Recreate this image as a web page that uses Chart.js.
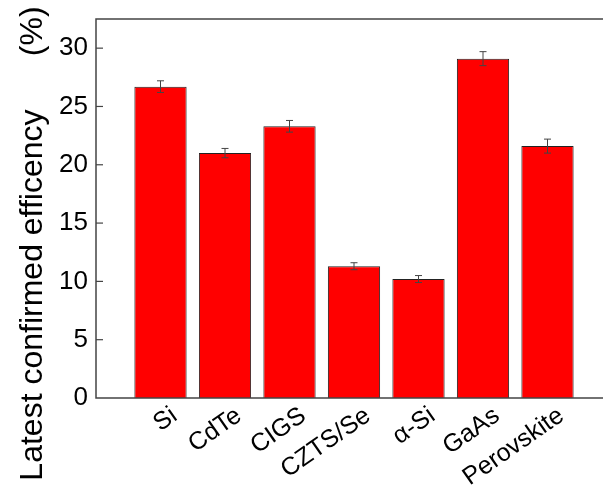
<!DOCTYPE html>
<html>
<head>
<meta charset="utf-8">
<script src="https://cdn.jsdelivr.net/npm/chart.js@4/dist/chart.umd.min.js"></script>
<style>
  html, body { margin: 0; padding: 0; background: #fff; overflow: hidden; }
  canvas { display: block; }
</style>
</head>
<body>
<canvas id="c" width="620" height="494"></canvas>
<script>
const categories = ['Si', 'CdTe', 'CIGS', 'CZTS/Se', '\u03B1-Si', 'GaAs', 'Perovskite'];
const efficiency = [26.7, 21.0, 23.3, 11.3, 10.2, 29.1, 21.6];
const errors = [0.5, 0.4, 0.5, 0.3, 0.3, 0.6, 0.6];
const yMin = 0, yMax = 32.5, yStep = 2.5, yLabelStep = 5;
const yTitle = 'Latest confirmed efficency\u00A0\u00A0\u00A0\u00A0\u00A0\u00A0(%)';

const FONT = 'Arial, "Liberation Sans", sans-serif';

const errorBars = {
  id: 'errorBars',
  afterDatasetsDraw(chart) {
    const ctx = chart.ctx, ys = chart.scales.y;
    const meta = chart.getDatasetMeta(0);
    ctx.save();
    ctx.strokeStyle = '#444';
    ctx.lineWidth = 1;
    meta.data.forEach((bar, i) => {
      const yt = ys.getPixelForValue(efficiency[i] + errors[i]);
      const yb = ys.getPixelForValue(efficiency[i] - errors[i]);
      const cap = 3.5;
      ctx.beginPath();
      ctx.moveTo(bar.x, yt); ctx.lineTo(bar.x, yb);
      ctx.moveTo(bar.x - cap, yt); ctx.lineTo(bar.x + cap, yt);
      ctx.moveTo(bar.x - cap, yb); ctx.lineTo(bar.x + cap, yb);
      ctx.stroke();
    });
    ctx.restore();
  }
};

const frame = {
  id: 'frame',
  afterDraw(chart) {
    const ctx = chart.ctx, a = chart.chartArea, ys = chart.scales.y;
    ctx.save();
    ctx.strokeStyle = '#444';
    ctx.lineWidth = 1.5;
    ctx.beginPath();
    ctx.moveTo(a.right + 20, a.top); ctx.lineTo(a.left, a.top);
    ctx.lineTo(a.left, a.bottom); ctx.lineTo(a.right + 20, a.bottom);
    ctx.stroke();
    ctx.lineWidth = 1.2;
    ys.ticks.forEach(t => {
      if (t.value <= yMin || t.value >= yMax) return;
      const y = ys.getPixelForValue(t.value);
      const len = (Math.abs(t.value % yLabelStep) < 1e-6) ? 7 : 4;
      ctx.beginPath();
      ctx.moveTo(a.left, y); ctx.lineTo(a.left + len, y);
      ctx.stroke();
    });
    // y-axis title
    ctx.fillStyle = '#000';
    ctx.font = '32px ' + FONT;
    ctx.textAlign = 'center';
    ctx.textBaseline = 'alphabetic';
    ctx.translate(42, (a.top + a.bottom) / 2 + 35);
    ctx.rotate(-Math.PI / 2);
    ctx.fillText(yTitle, 0, 0);
    ctx.restore();
  }
};

new Chart(document.getElementById('c'), {
  type: 'bar',
  data: {
    datasets: [{
      data: categories.map((c, i) => ({ x: i + 1, y: efficiency[i] })),
      backgroundColor: '#ff0000',
      borderColor: '#222',
      borderWidth: 1,
      barPercentage: 0.81,
      categoryPercentage: 1.0
    }]
  },
  options: {
    responsive: false,
    animation: false,
    layout: { padding: { top: 19, right: 8, left: 0, bottom: 0 } },
    plugins: { legend: { display: false }, tooltip: { enabled: false } },
    scales: {
      x: {
        type: 'linear',
        offset: false,
        min: 0, max: categories.length + 1,
        grid: { display: false, drawTicks: false, offset: false },
        border: { display: false },
        afterFit(s) { s.height = 96; s.paddingLeft = 0; s.paddingRight = 0; },
        ticks: {
          stepSize: 1,
          autoSkip: false,
          minRotation: 35, maxRotation: 35,
          padding: 3,
          labelOffset: 14,
          color: '#000',
          font: { family: FONT, size: 25 },
          callback: v => categories[v - 1] || ''
        }
      },
      y: {
        min: yMin, max: yMax,
        grid: { display: false, drawTicks: false },
        border: { display: false },
        afterFit(s) { s.width = 96; s.paddingTop = 0; s.paddingBottom = 0; },
        ticks: {
          stepSize: yStep,
          padding: 8,
          color: '#000',
          font: { family: FONT, size: 26 },
          callback: v => (Math.abs(v % yLabelStep) < 1e-6 && v < yMax) ? String(v) : ''
        }
      }
    }
  },
  plugins: [errorBars, frame]
});
</script>
</body>
</html>
